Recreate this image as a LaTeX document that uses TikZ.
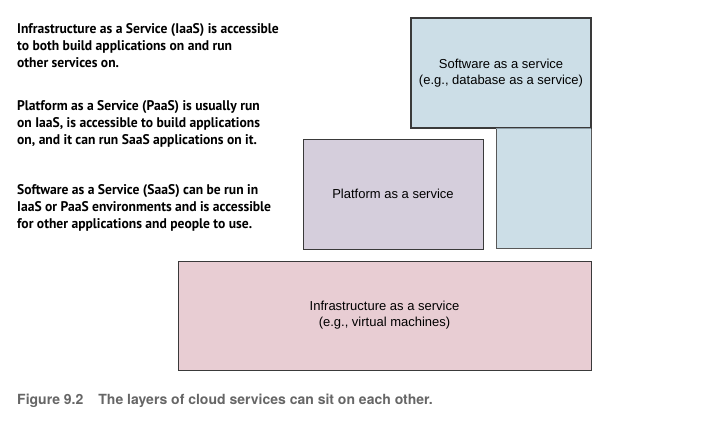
\documentclass[tikz,border=0pt]{standalone}
\usepackage{fontspec}
\setmainfont{Liberation Sans}
\newfontfamily\notefont[FakeStretch=0.97]{PT Sans Bold}
\newfontfamily\capfont{TeX Gyre Heros}
\usetikzlibrary{shapes,positioning}
\definecolor{saasblue}{HTML}{CCDEE7}
\definecolor{paaspurple}{HTML}{D5CEDC}
\definecolor{iaaspink}{HTML}{E8CDD3}
\definecolor{edgegray}{HTML}{3A3A3A}
\definecolor{seamgray}{HTML}{8C9DA7}
\definecolor{captiongray}{HTML}{666666}
\tikzstyle{layer} = [rectangle, draw=edgegray, line width=0.9pt, outer sep=0pt,
    text centered, align=center, inner sep=0pt, font=\fontsize{13}{16}\selectfont]
\tikzstyle{note} = [anchor=base west, inner sep=0pt, align=left,
    font=\notefont\fontsize{14}{17}\selectfont]

\begin{document}
\begin{tikzpicture}[x=1pt, y=-1pt]
      \useasboundingbox (0,0) rectangle (714,427);
      \node [layer, fill=saasblue, minimum width=95pt, minimum height=120pt,
         draw=edgegray!85] (saascol) at (543.5,188) {};
      \node [layer, fill=saasblue, minimum width=180pt, minimum height=110pt,
         anchor=south east, line width=1.1pt] (saas) at (saascol.north east)
         {Software as a service\\(e.g., database as a service)};
      \node [layer, fill=paaspurple, minimum width=180pt, minimum height=110pt]
         (paas) at (393,194) {Platform as a service};
      \node [layer, fill=iaaspink, minimum width=413pt, minimum height=109pt]
         (iaas) at (384.5,315.5) {Infrastructure as a service\\(e.g., virtual machines)};

      \path [draw=seamgray, line width=0.9pt] (saascol.north west) -- (saascol.north east);

      \node [note] (iaasnote) at (17,68) {Infrastructure as a Service (IaaS) is accessible\\
         to both build applications on and run\\other services on.};
      \node [note] (paasnote) at (17,145) {Platform as a Service (PaaS) is usually run\\
         on IaaS, is accessible to build applications\\on, and it can run SaaS applications on it.};
      \node [note] (saasnote) at (17,229) {Software as a Service (SaaS) can be run in\\
         IaaS or PaaS environments and is accessible\\for other applications and people to use.};

      \node [anchor=base west, inner sep=0pt, text=captiongray,
         font=\capfont\bfseries\fontsize{14}{17}\selectfont] (caption) at (17,404)
         {Figure 9.2\hspace{15pt}The layers of cloud services can sit on each other.};
\end{tikzpicture}
\end{document}
